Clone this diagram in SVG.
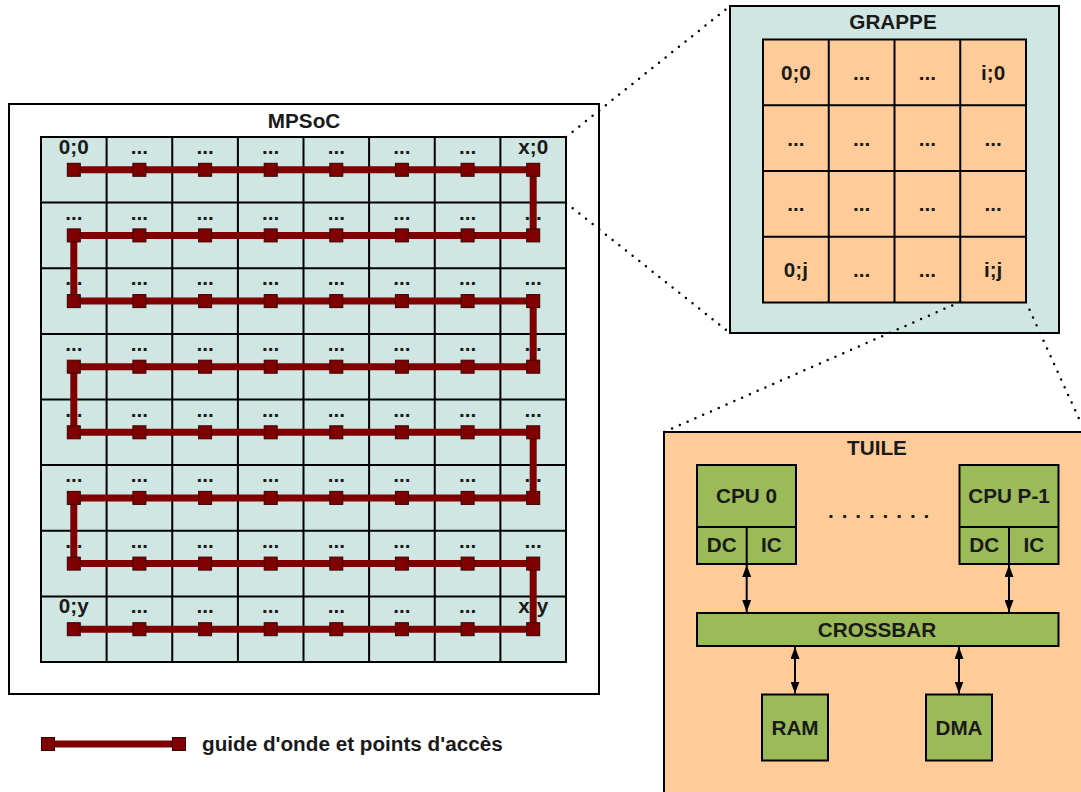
<svg xmlns="http://www.w3.org/2000/svg" xmlns:xlink="http://www.w3.org/1999/xlink" width="1081" height="792" viewBox="0 0 1081 792">
<style>
text{font-family:"Liberation Sans",Arial,sans-serif;font-weight:bold;font-size:20.7px;fill:#1a1a1a;text-anchor:middle}
.box{stroke:#000;stroke-width:2}
.teal{fill:#cfe6e3}
.orange{fill:#ffcc99}
.green{fill:#9bbb59;stroke:#000;stroke-width:2}
.gl{fill:none;stroke:#000;stroke-width:2}
.wg{fill:none;stroke:#800000;stroke-width:7;stroke-linejoin:miter}
.ap{fill:#800000;stroke:#3a0000;stroke-width:1}
.dot{fill:none;stroke:#000;stroke-width:2.5;stroke-linecap:round;stroke-dasharray:0 8.5}
.arr{fill:none;stroke:#000;stroke-width:2;marker-start:url(#ah);marker-end:url(#ah)}
</style>
<defs>
<marker id="ah" viewBox="0 0 12 9" refX="12" refY="4.5" markerWidth="12" markerHeight="9" markerUnits="userSpaceOnUse" orient="auto-start-reverse"><path d="M0,0 L12,4.5 L0,9 z" fill="#000"/></marker>
<rect id="apr" class="ap" x="-6.5" y="-6.5" width="13" height="13"/>
</defs>
<rect width="1081" height="792" fill="#fff"/>

<g id="mpsoc">
<rect class="box" x="9" y="104" width="590" height="590" fill="#fff"/>
<text x="304" y="128">MPSoC</text>
<rect class="teal" x="41" y="137" width="525" height="525"/>
<path class="gl" d="M41,137H566V662H41Z M106.6,137V662 M172.25,137V662 M237.9,137V662 M303.5,137V662 M369.1,137V662 M434.75,137V662 M500.4,137V662 M41,202.6H566 M41,268.25H566 M41,333.9H566 M41,399.5H566 M41,465.1H566 M41,530.75H566 M41,596.4H566"/>
<g id="mpsoc-labels">
<text x="73.8" y="154">0;0</text><text x="139.4" y="154">...</text><text x="205.1" y="154">...</text><text x="270.7" y="154">...</text><text x="336.3" y="154">...</text><text x="401.9" y="154">...</text><text x="467.6" y="154">...</text><text x="533.2" y="154">x;0</text>
<text x="73.8" y="219.6">...</text><text x="139.4" y="219.6">...</text><text x="205.1" y="219.6">...</text><text x="270.7" y="219.6">...</text><text x="336.3" y="219.6">...</text><text x="401.9" y="219.6">...</text><text x="467.6" y="219.6">...</text><text x="533.2" y="219.6">...</text>
<text x="73.8" y="285.25">...</text><text x="139.4" y="285.25">...</text><text x="205.1" y="285.25">...</text><text x="270.7" y="285.25">...</text><text x="336.3" y="285.25">...</text><text x="401.9" y="285.25">...</text><text x="467.6" y="285.25">...</text><text x="533.2" y="285.25">...</text>
<text x="73.8" y="350.9">...</text><text x="139.4" y="350.9">...</text><text x="205.1" y="350.9">...</text><text x="270.7" y="350.9">...</text><text x="336.3" y="350.9">...</text><text x="401.9" y="350.9">...</text><text x="467.6" y="350.9">...</text><text x="533.2" y="350.9">...</text>
<text x="73.8" y="416.5">...</text><text x="139.4" y="416.5">...</text><text x="205.1" y="416.5">...</text><text x="270.7" y="416.5">...</text><text x="336.3" y="416.5">...</text><text x="401.9" y="416.5">...</text><text x="467.6" y="416.5">...</text><text x="533.2" y="416.5">...</text>
<text x="73.8" y="482.1">...</text><text x="139.4" y="482.1">...</text><text x="205.1" y="482.1">...</text><text x="270.7" y="482.1">...</text><text x="336.3" y="482.1">...</text><text x="401.9" y="482.1">...</text><text x="467.6" y="482.1">...</text><text x="533.2" y="482.1">...</text>
<text x="73.8" y="547.75">...</text><text x="139.4" y="547.75">...</text><text x="205.1" y="547.75">...</text><text x="270.7" y="547.75">...</text><text x="336.3" y="547.75">...</text><text x="401.9" y="547.75">...</text><text x="467.6" y="547.75">...</text><text x="533.2" y="547.75">...</text>
<text x="73.8" y="613.4">0;y</text><text x="139.4" y="613.4">...</text><text x="205.1" y="613.4">...</text><text x="270.7" y="613.4">...</text><text x="336.3" y="613.4">...</text><text x="401.9" y="613.4">...</text><text x="467.6" y="613.4">...</text><text x="533.2" y="613.4">x;y</text>
</g>
</g>

<g id="grappe">
<rect class="box teal" x="730" y="6" width="329" height="327"/>
<text x="893" y="29">GRAPPE</text>
<rect class="orange" x="763" y="39.5" width="263" height="263"/>
<path class="gl" d="M763,39.5H1026V302.5H763Z M828.75,39.5V302.5 M894.5,39.5V302.5 M960.25,39.5V302.5 M763,105.25H1026 M763,171H1026 M763,236.75H1026"/>
<text x="795.9" y="79.9">0;0</text><text x="861.6" y="79.9">...</text><text x="927.4" y="79.9">...</text><text x="993.1" y="79.9">i;0</text>
<text x="795.9" y="145.6">...</text><text x="861.6" y="145.6">...</text><text x="927.4" y="145.6">...</text><text x="993.1" y="145.6">...</text>
<text x="795.9" y="211.4">...</text><text x="861.6" y="211.4">...</text><text x="927.4" y="211.4">...</text><text x="993.1" y="211.4">...</text>
<text x="795.9" y="277.1">0;j</text><text x="861.6" y="277.1">...</text><text x="927.4" y="277.1">...</text><text x="993.1" y="277.1">i;j</text>
</g>

<g id="tuile">
<rect class="box orange" x="664" y="432" width="430" height="370"/>
<text x="877" y="455" fill="#000">TUILE</text>
<text x="828" y="518" style="letter-spacing:7.9px;text-anchor:start">........</text>
</g>

<g id="cpu0">
<rect class="green" x="697" y="465" width="99" height="99"/>
<path class="gl" d="M697,527H796 M746.7,527V564"/>
<text x="746.5" y="503">CPU 0</text>
<text x="721.8" y="552">DC</text>
<text x="771.3" y="552">IC</text>
</g>

<g id="cpup1">
<rect class="green" x="959.5" y="465" width="99" height="99"/>
<path class="gl" d="M959.5,527H1058.5 M1009,527V564"/>
<text x="1009" y="503">CPU P-1</text>
<text x="984.3" y="552">DC</text>
<text x="1033.8" y="552">IC</text>
</g>

<g id="crossbar">
<rect class="green" x="697" y="613" width="361.5" height="33"/>
<text x="877" y="637">CROSSBAR</text>
</g>

<g id="ram">
<rect class="green" x="762" y="694.5" width="66" height="66"/>
<text x="795" y="735">RAM</text>
</g>

<g id="dma">
<rect class="green" x="926" y="694.5" width="66" height="66"/>
<text x="959" y="735">DMA</text>
</g>

<g id="connectors">
<polyline class="wg" points="73.8,169.8 533.2,169.8 533.2,235.4 73.8,235.4 73.8,301.1 533.2,301.1 533.2,366.7 73.8,366.7 73.8,432.3 533.2,432.3 533.2,497.9 73.8,497.9 73.8,563.6 533.2,563.6 533.2,629.2 73.8,629.2"/>
<g id="access-points">
<use href="#apr" x="73.8" y="169.8"/><use href="#apr" x="139.4" y="169.8"/><use href="#apr" x="205.1" y="169.8"/><use href="#apr" x="270.7" y="169.8"/><use href="#apr" x="336.3" y="169.8"/><use href="#apr" x="401.9" y="169.8"/><use href="#apr" x="467.6" y="169.8"/><use href="#apr" x="533.2" y="169.8"/>
<use href="#apr" x="73.8" y="235.4"/><use href="#apr" x="139.4" y="235.4"/><use href="#apr" x="205.1" y="235.4"/><use href="#apr" x="270.7" y="235.4"/><use href="#apr" x="336.3" y="235.4"/><use href="#apr" x="401.9" y="235.4"/><use href="#apr" x="467.6" y="235.4"/><use href="#apr" x="533.2" y="235.4"/>
<use href="#apr" x="73.8" y="301.1"/><use href="#apr" x="139.4" y="301.1"/><use href="#apr" x="205.1" y="301.1"/><use href="#apr" x="270.7" y="301.1"/><use href="#apr" x="336.3" y="301.1"/><use href="#apr" x="401.9" y="301.1"/><use href="#apr" x="467.6" y="301.1"/><use href="#apr" x="533.2" y="301.1"/>
<use href="#apr" x="73.8" y="366.7"/><use href="#apr" x="139.4" y="366.7"/><use href="#apr" x="205.1" y="366.7"/><use href="#apr" x="270.7" y="366.7"/><use href="#apr" x="336.3" y="366.7"/><use href="#apr" x="401.9" y="366.7"/><use href="#apr" x="467.6" y="366.7"/><use href="#apr" x="533.2" y="366.7"/>
<use href="#apr" x="73.8" y="432.3"/><use href="#apr" x="139.4" y="432.3"/><use href="#apr" x="205.1" y="432.3"/><use href="#apr" x="270.7" y="432.3"/><use href="#apr" x="336.3" y="432.3"/><use href="#apr" x="401.9" y="432.3"/><use href="#apr" x="467.6" y="432.3"/><use href="#apr" x="533.2" y="432.3"/>
<use href="#apr" x="73.8" y="497.9"/><use href="#apr" x="139.4" y="497.9"/><use href="#apr" x="205.1" y="497.9"/><use href="#apr" x="270.7" y="497.9"/><use href="#apr" x="336.3" y="497.9"/><use href="#apr" x="401.9" y="497.9"/><use href="#apr" x="467.6" y="497.9"/><use href="#apr" x="533.2" y="497.9"/>
<use href="#apr" x="73.8" y="563.6"/><use href="#apr" x="139.4" y="563.6"/><use href="#apr" x="205.1" y="563.6"/><use href="#apr" x="270.7" y="563.6"/><use href="#apr" x="336.3" y="563.6"/><use href="#apr" x="401.9" y="563.6"/><use href="#apr" x="467.6" y="563.6"/><use href="#apr" x="533.2" y="563.6"/>
<use href="#apr" x="73.8" y="629.2"/><use href="#apr" x="139.4" y="629.2"/><use href="#apr" x="205.1" y="629.2"/><use href="#apr" x="270.7" y="629.2"/><use href="#apr" x="336.3" y="629.2"/><use href="#apr" x="401.9" y="629.2"/><use href="#apr" x="467.6" y="629.2"/><use href="#apr" x="533.2" y="629.2"/>
</g>
<line class="dot" x1="566" y1="137" x2="730" y2="6"/>
<line class="dot" x1="566" y1="203" x2="730" y2="333"/>
<line class="dot" x1="960" y1="302" x2="664" y2="432"/>
<line class="dot" x1="1026" y1="302" x2="1085" y2="432"/>
<line class="arr" x1="746.7" y1="565" x2="746.7" y2="612"/>
<line class="arr" x1="1009" y1="565" x2="1009" y2="612"/>
<line class="arr" x1="795" y1="647" x2="795" y2="693.5"/>
<line class="arr" x1="959" y1="647" x2="959" y2="693.5"/>
</g>

<g id="legend">
<line x1="48" y1="744" x2="179" y2="744" stroke="#800000" stroke-width="7"/>
<use href="#apr" x="48" y="744"/>
<use href="#apr" x="179" y="744"/>
<text x="202" y="751" style="text-anchor:start">guide d'onde et points d'accès</text>
</g>
</svg>
